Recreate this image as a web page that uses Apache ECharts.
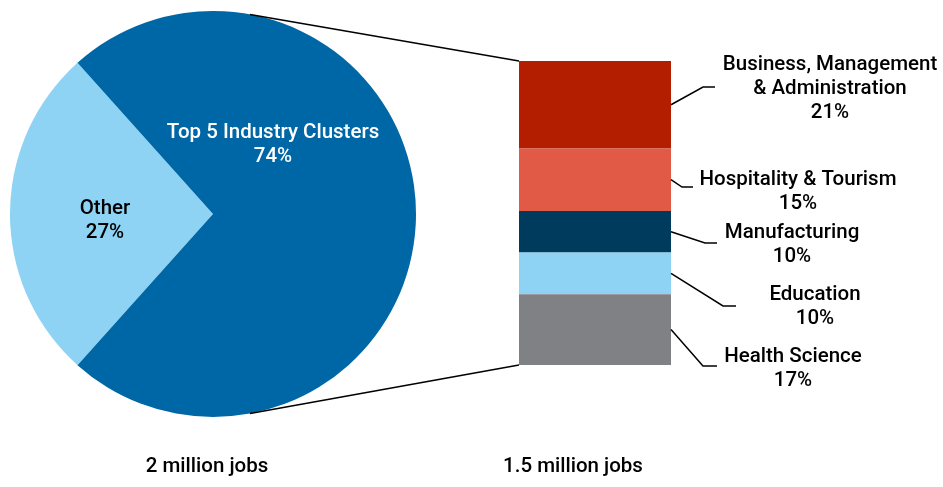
<!DOCTYPE html>
<html>
<head>
<meta charset="utf-8">
<script src="https://cdn.jsdelivr.net/npm/echarts@6/dist/echarts.min.js"></script>
<style>
  html, body { margin: 0; padding: 0; background: #ffffff; }
  #chart { width: 943px; height: 487px; }
</style>
</head>
<body>
<div id="chart"></div>
<script>
// Share of jobs: whole economy vs. the five largest industry clusters
const pieNames = ['Top 5 Industry Clusters', 'Other'];
const pieValues = [74, 27];

const clusterNames = [
  'Business, Management\n& Administration',
  'Hospitality & Tourism',
  'Manufacturing',
  'Education',
  'Health Science'
];
const clusterValues = [21, 15, 10, 10, 17];

const totalLabels = ['2 million jobs', '1.5 million jobs'];

// Styling / layout
const FONT = 'Roboto, "Liberation Sans", Arial, sans-serif';
const FONT_SIZE = 20.5;
const pieColors = ['#0067a7', '#8ed2f4'];
const clusterColors = ['#b31d00', '#e05a46', '#003b5d', '#8ed2f4', '#808184'];
const PIE_CENTER = [213, 214];
const PIE_RADIUS = 203;
const BAR_RECT = { left: 519, top: 61, width: 152, height: 304 };
// label block centres and leader-line elbows for the stacked column
const clusterLabelPos = [[830, 89], [798, 192], [792, 245], [815, 307], [793, 369]];
const leaderElbows = [[703, 87, 715], [682, 187, 693], [705, 243, 717], [723, 306, 736], [703, 366, 717]];
const pieLabelPos = [[273, 145], [105, 221]];
const totalLabelPos = [[207, 467], [573, 467]];

const clusterTotal = clusterValues.reduce((a, b) => a + b, 0);
const pieTotal = pieValues.reduce((a, b) => a + b, 0);
// "Other" wedge centred on 9 o'clock
const otherSweep = pieValues[1] / pieTotal * 360;
const startAngle = 180 + otherSweep / 2;

const chart = echarts.init(document.getElementById('chart'), null, { renderer: 'canvas' });

const textBase = {
  fontFamily: FONT,
  fontSize: FONT_SIZE,
  fontWeight: 500,
  lineHeight: 24,
  color: '#000'
};

const barSeries = clusterNames.map((name, i) => ({
  type: 'bar',
  name: name,
  stack: 'jobs',
  data: [clusterValues[i]],
  barWidth: '100%',
  itemStyle: { color: clusterColors[i], borderWidth: 0 },
  label: Object.assign({
    show: true,
    position: 'right',
    align: 'center',
    formatter: (p) => p.seriesName + '\n' + p.value + '%'
  }, textBase),
  labelLayout: {
    x: clusterLabelPos[i][0],
    y: clusterLabelPos[i][1],
    align: 'center',
    verticalAlign: 'middle'
  },
  emphasis: { disabled: true }
}));

chart.setOption({
  animation: false,
  backgroundColor: '#ffffff',
  grid: {
    left: BAR_RECT.left,
    top: BAR_RECT.top,
    width: BAR_RECT.width,
    height: BAR_RECT.height,
    containLabel: false
  },
  xAxis: { type: 'category', data: ['Top 5'], show: false },
  yAxis: { type: 'value', min: 0, max: clusterTotal, inverse: true, show: false },
  series: [
    {
      type: 'pie',
      center: PIE_CENTER,
      radius: PIE_RADIUS,
      startAngle: startAngle,
      clockwise: true,
      data: [
        { name: pieNames[1], value: pieValues[1], itemStyle: { color: pieColors[1] }, label: { color: '#000' } },
        { name: pieNames[0], value: pieValues[0], itemStyle: { color: pieColors[0] }, label: { color: '#fff' } }
      ],
      itemStyle: { borderWidth: 0 },
      label: Object.assign({}, textBase, {
        show: true,
        position: 'inside',
        align: 'center',
        formatter: '{b}\n{c}%'
      }),
      labelLine: { show: false },
      labelLayout: (p) => {
        const pos = p.dataIndex === 0 ? pieLabelPos[1] : pieLabelPos[0];
        return { x: pos[0], y: pos[1], align: 'center', verticalAlign: 'middle' };
      },
      emphasis: { disabled: true }
    }
  ].concat(barSeries)
});

// Connector lines and leader lines, positioned from the drawn axes
const rect = chart.getModel().getComponent('grid').coordinateSystem.getRect();
const yPix = (v) => chart.convertToPixel({ yAxisIndex: 0 }, v);
const touchAngle = 79.5 * Math.PI / 180;
const pieTop = [PIE_CENTER[0] + PIE_RADIUS * Math.cos(touchAngle), PIE_CENTER[1] - PIE_RADIUS * Math.sin(touchAngle)];
const pieBottom = [PIE_CENTER[0] + PIE_RADIUS * Math.cos(touchAngle), PIE_CENTER[1] + PIE_RADIUS * Math.sin(touchAngle)];

const lineStyle = { stroke: '#000', lineWidth: 1.5, fill: null };
const graphics = [
  { type: 'polyline', shape: { points: [pieTop, [rect.x, yPix(0)]] }, style: lineStyle, z: 10 },
  { type: 'polyline', shape: { points: [pieBottom, [rect.x, yPix(clusterTotal)]] }, style: lineStyle, z: 10 }
];

let cum = 0;
clusterValues.forEach((v, i) => {
  const mid = yPix(cum + v / 2);
  cum += v;
  const e = leaderElbows[i];
  graphics.push({
    type: 'polyline',
    shape: { points: [[rect.x + rect.width, mid], [e[0], e[1]], [e[2], e[1]]] },
    style: lineStyle,
    z: 10
  });
});

totalLabels.forEach((t, i) => {
  graphics.push({
    type: 'text',
    x: totalLabelPos[i][0],
    y: totalLabelPos[i][1],
    style: {
      text: t,
      fill: '#000',
      font: '500 ' + FONT_SIZE + 'px ' + FONT,
      textAlign: 'center',
      textVerticalAlign: 'middle'
    }
  });
});

chart.setOption({ graphic: graphics });
</script>
</body>
</html>
